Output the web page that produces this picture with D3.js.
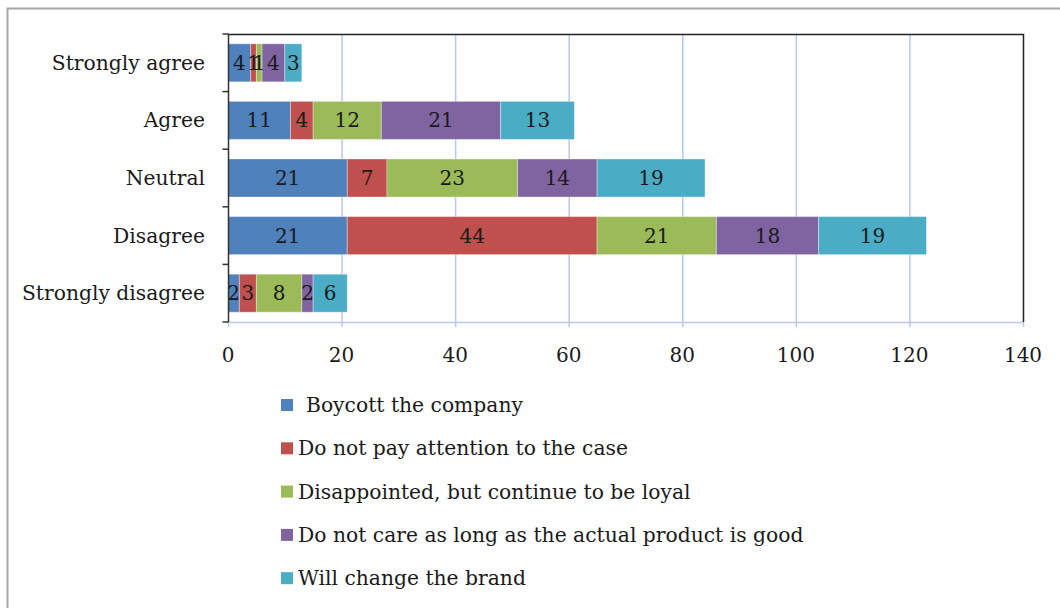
<!DOCTYPE html>
<html>
<head>
<meta charset="utf-8">
<script src="https://cdn.jsdelivr.net/npm/d3@7"></script>
<style>
  html, body { margin: 0; padding: 0; background: #fff; }
  svg { display: block; }
  text { font-family: "DejaVu Serif", "Liberation Serif", serif; fill: #1a1a1a; }
</style>
</head>
<body>
<svg id="chart" width="1060" height="608"></svg>
<script>
// Response categories (top to bottom)
const categories = ["Strongly agree", "Agree", "Neutral", "Disagree", "Strongly disagree"];

// Series names
const seriesNames = [
  "Boycott the company",
  "Do not pay attention to the case",
  "Disappointed, but continue to be loyal",
  "Do not care as long as the actual product is good",
  "Will change the brand"
];

// Counts per series, in category order
const boycott      = [4, 11, 21, 21, 2];
const noAttention  = [1, 4, 7, 44, 3];
const disappointed = [1, 12, 23, 21, 8];
const doNotCare    = [4, 21, 14, 18, 2];
const changeBrand  = [3, 13, 19, 19, 6];

// Axis ticks
const xTicks = [0, 20, 40, 60, 80, 100, 120, 140];

const seriesValues = [boycott, noAttention, disappointed, doNotCare, changeBrand];
const colors = ["#4f81bd", "#c0504d", "#9bbb59", "#8064a2", "#4bacc6"];

const svg = d3.select("#chart");

// outer frame
svg.append("path")
  .attr("d", "M7.5,620 V8.5 H1070")
  .attr("fill", "none").attr("stroke", "#a6a6a6").attr("stroke-width", 2);

const plot = { left: 228, top: 34, right: 1023, bottom: 322 };

const x = d3.scaleLinear().domain([0, 140]).range([plot.left, plot.right]);
const y = d3.scaleBand().domain(categories).range([plot.top, plot.bottom]).paddingInner(0.34).paddingOuter(0.17);

// gridlines
svg.append("g").selectAll("line").data(xTicks.slice(1, -1)).join("line")
  .attr("x1", d => x(d) + 0.5).attr("x2", d => x(d) + 0.5)
  .attr("y1", plot.top).attr("y2", plot.bottom + 5)
  .attr("stroke", "#b7c8ec").attr("stroke-width", 1.5);

// bottom axis line (light) and tick marks
svg.append("line")
  .attr("x1", plot.left).attr("x2", plot.right)
  .attr("y1", plot.bottom + 0.5).attr("y2", plot.bottom + 0.5)
  .attr("stroke", "#b7c8ec").attr("stroke-width", 1.5);
svg.append("g").selectAll("line").data([0, 140]).join("line")
  .attr("x1", d => x(d) + 0.5).attr("x2", d => x(d) + 0.5)
  .attr("y1", plot.bottom).attr("y2", plot.bottom + 5)
  .attr("stroke", "#b7c8ec").attr("stroke-width", 1.5);

// stacked data
const stack = categories.map((c, i) => {
  let acc = 0;
  return seriesValues.map((vals, s) => {
    const v = vals[i];
    const seg = { cat: c, s, v, x0: acc, x1: acc + v };
    acc += v;
    return seg;
  });
}).flat();

const bars = svg.append("g");
bars.selectAll("rect").data(stack).join("rect")
  .attr("x", d => x(d.x0))
  .attr("y", d => y(d.cat))
  .attr("width", d => x(d.x1) - x(d.x0))
  .attr("height", y.bandwidth())
  .attr("fill", d => colors[d.s])
  .attr("stroke", "rgba(255,255,255,0.35)")
  .attr("stroke-width", 1);

bars.selectAll("text").data(stack).join("text")
  .attr("x", d => (x(d.x0) + x(d.x1)) / 2)
  .attr("y", d => y(d.cat) + y.bandwidth() / 2 + 7)
  .attr("text-anchor", "middle")
  .attr("font-size", 20)
  .text(d => d.v);

// top and right frame of plot area
svg.append("path")
  .attr("d", `M${plot.left},${plot.top + 0.5} H${plot.right + 0.5} V${plot.bottom}`)
  .attr("fill", "none").attr("stroke", "#222").attr("stroke-width", 1.5);

// category axis
const yAxis = svg.append("g").attr("transform", `translate(${plot.left + 0.5},0)`);
yAxis.append("line").attr("y1", plot.top).attr("y2", plot.bottom).attr("stroke", "#333").attr("stroke-width", 1.5);
const bounds = d3.range(categories.length + 1).map(i => plot.top + i * (plot.bottom - plot.top) / categories.length);
yAxis.selectAll("line.tick").data(bounds).join("line").attr("class", "tick")
  .attr("x1", -6).attr("x2", 0).attr("y1", d => d).attr("y2", d => d)
  .attr("stroke", "#333").attr("stroke-width", 1.5);
svg.append("g").selectAll("text").data(categories).join("text")
  .attr("x", 205)
  .attr("y", d => y(d) + y.bandwidth() / 2 + 7)
  .attr("text-anchor", "end")
  .attr("font-size", 20.3)
  .text(d => d);

// value axis labels
svg.append("g").selectAll("text").data(xTicks).join("text")
  .attr("x", d => x(d))
  .attr("y", 362)
  .attr("text-anchor", "middle")
  .attr("font-size", 20)
  .text(d => d);

// legend
const legend = svg.append("g");
const rows = legend.selectAll("g").data(seriesNames).join("g")
  .attr("transform", (d, i) => `translate(281, ${405 + i * 43.3})`);
rows.append("rect").attr("x", 0).attr("y", -6).attr("width", 12).attr("height", 12)
  .attr("fill", (d, i) => colors[i]);
rows.append("text").attr("x", (d, i) => i === 0 ? 25 : 17).attr("y", 7)
  .attr("font-size", 20.3)
  .text(d => d);
</script>
</body>
</html>
